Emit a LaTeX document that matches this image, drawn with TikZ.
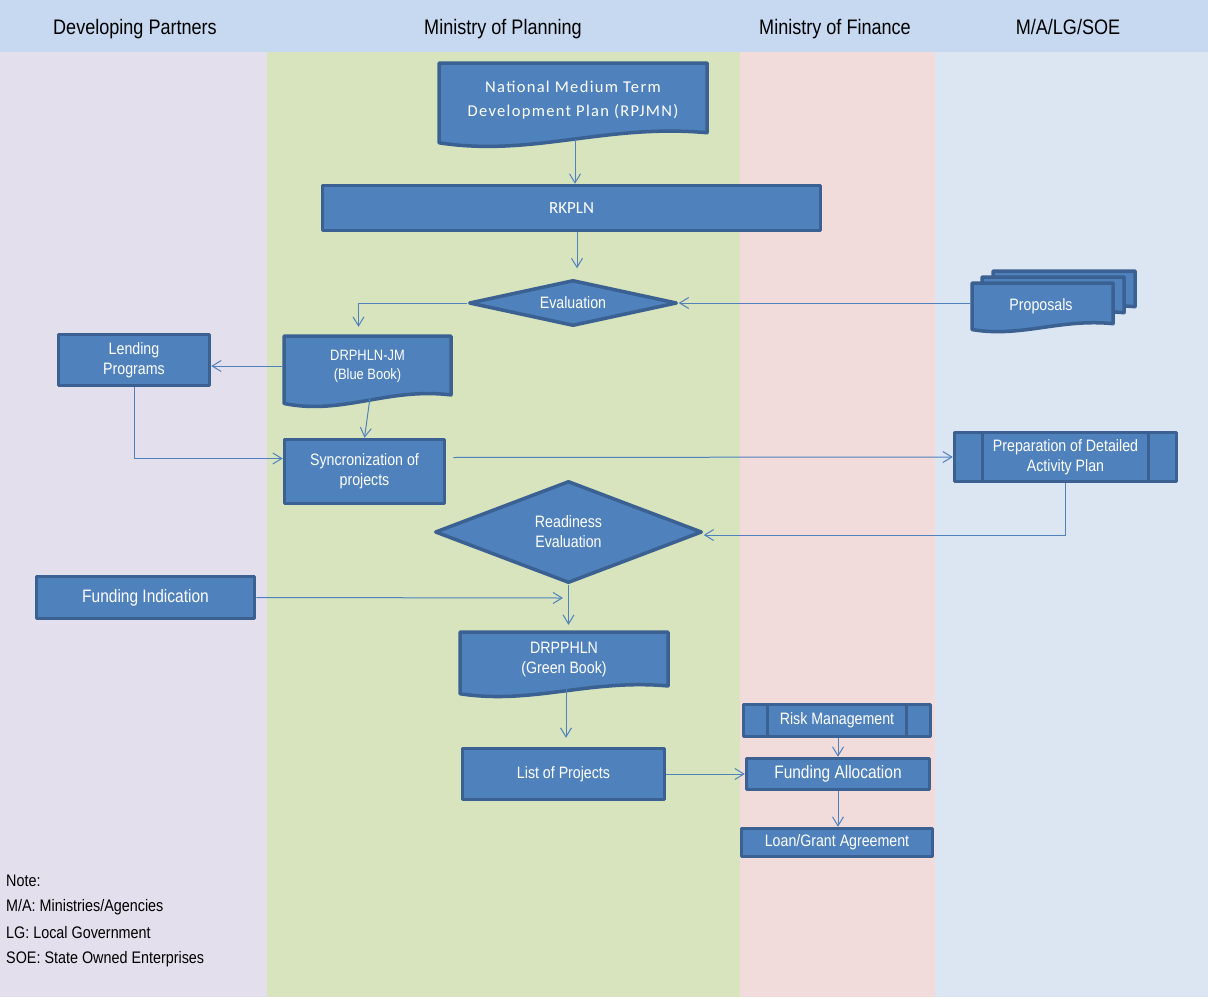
\documentclass[tikz,border=0pt]{standalone}
\usepackage{fontspec}
\setmainfont{Liberation Sans}
\newfontfamily\narrow[FakeStretch=0.86]{Liberation Sans}
\newfontfamily\calib[LetterSpace=8]{Carlito}
\newfontfamily\calibplain{Carlito}
\usetikzlibrary{arrows.meta,shapes.geometric,calc}
\definecolor{hdr}{HTML}{C6D9F1}
\definecolor{lanea}{HTML}{E4DFEC}
\definecolor{laneb}{HTML}{D7E4BD}
\definecolor{lanec}{HTML}{F2DCDB}
\definecolor{laned}{HTML}{DCE6F2}
\definecolor{boxfill}{HTML}{4F81BD}
\definecolor{boxline}{HTML}{3A6191}
\definecolor{connc}{HTML}{4F81BD}
\tikzset{
  boxstyle/.style={fill=boxfill,draw=boxline,line width=3.5pt,line join=round},
  proc/.style={boxstyle,rectangle,text=white,align=center,inner sep=0pt,
    font=\narrow\fontsize{16.5}{20}\selectfont},
  dec/.style={boxstyle,diamond,text=white,align=center,inner sep=0pt,
    font=\narrow\fontsize{16.5}{20}\selectfont},
  doclabel/.style={rectangle,draw=none,text=white,align=center,inner sep=0pt,
    font=\narrow\fontsize{16.5}{20}\selectfont},
  predef/.style={proc,path picture={
    \draw[boxline,line width=3.5pt]
      ([xshift=#1]path picture bounding box.south west) -- ([xshift=#1]path picture bounding box.north west)
      ([xshift=-#1]path picture bounding box.south east) -- ([xshift=-#1]path picture bounding box.north east);}},
  hdrtext/.style={font=\narrow\fontsize{21}{24}\selectfont,text=black,anchor=base},
  notetext/.style={font=\narrow\fontsize{16.7}{19}\selectfont,text=black,anchor=west,inner sep=0pt},
  conn/.style={draw=connc,line width=1pt,-{Straight Barb[length=9pt,width=11pt]}},
}
% document shape: x0 y0 x1 y1 (y1 = lowest point of wave)
\newcommand\docshape[4]{%
  \draw[boxstyle] (#1,#2) -- (#3,#2) -- (#3,{#2+0.83*(#4-#2)})
    .. controls ({#1+0.62*(#3-#1)},{#2+0.72*(#4-#2)}) and ({#1+0.35*(#3-#1)},{#2+1.12*(#4-#2)}) ..
    (#1,{#2+0.95*(#4-#2)}) -- cycle;}
\begin{document}
\begin{tikzpicture}[x=1pt,y=-1pt]
\useasboundingbox (0,0) rectangle (1208,997);
% lanes
\fill[lanea] (0,52) rectangle (267,997);
\fill[laneb] (267,52) rectangle (740,997);
\fill[lanec] (740,52) rectangle (935,997);
\fill[laned] (935,52) rectangle (1208,997);
\fill[hdr] (0,0) rectangle (1208,52);
\node[hdrtext] (h1) at (135,34) {Developing Partners};
\node[hdrtext] (h2) at (503,34) {Ministry of Planning};
\node[hdrtext] (h3) at (835,34) {Ministry of Finance};
\node[hdrtext] (h4) at (1068,34) {M/A/LG/SOE};

% RPJMN document
\docshape{439}{63}{707}{147}
\node[doclabel,minimum width=268pt,minimum height=77pt,font=\calib\fontsize{16.5}{24}\selectfont] (rpjmn) at (573,100)
  {National Medium Term\\Development Plan (RPJMN)};

% RKPLN
\node[proc,minimum width=498pt,minimum height=45pt,font=\calibplain\fontsize{17}{20}\selectfont] (rkpln) at (571.5,208) {RKPLN};

% Evaluation
\node[dec,aspect=4.4,minimum width=208pt,minimum height=46pt] (eval) at (573,303) {Evaluation};

% Proposals (multi-document)
\docshape{993}{271}{1135}{314}
\docshape{982}{277}{1124}{320}
\docshape{972}{283}{1113}{332}
\node[doclabel,minimum width=141pt,minimum height=44pt] (prop) at (1041,306) {Proposals};

% Blue Book
\docshape{284}{336}{451}{407}
\node[doclabel,minimum width=167pt,minimum height=64pt,font=\narrow\fontsize{15}{19}\selectfont] (bb) at (367.5,366)
  {DRPHLN-JM\\(Blue Book)};

% Lending Programs
\node[proc,minimum width=151pt,minimum height=51pt] (lend) at (134,360) {Lending\\Programs};

% Syncronization
\node[proc,minimum width=160pt,minimum height=64pt] (sync) at (364.5,471.5) {Syncronization of\\projects};

% Preparation
\node[predef=28pt,minimum width=222pt,minimum height=49pt] (prep) at (1065.5,457) {Preparation of Detailed\\Activity Plan};

% Readiness
\node[dec,aspect=2.6,minimum width=267pt,minimum height=102pt] (ready) at (568.5,532) {Readiness\\Evaluation};

% Funding Indication
\node[proc,minimum width=218pt,minimum height=42pt,font=\narrow\fontsize{18}{20}\selectfont] (fund) at (145.5,597.5) {Funding Indication};
\coordinate (fundend) at (563,598);

% Green Book
\docshape{460}{632}{668}{697}
\node[doclabel,minimum width=208pt,minimum height=58pt] (green) at (564,660) {DRPPHLN\\(Green Book)};

% List of Projects
\node[proc,minimum width=202pt,minimum height=51pt] (list) at (563.5,774) {List of Projects};

% Finance column
\node[predef=24pt,minimum width=187pt,minimum height=32pt] (risk) at (837,720.5) {Risk Management};
\node[proc,minimum width=183pt,minimum height=31pt,font=\narrow\fontsize{18}{20}\selectfont] (falloc) at (838,774) {Funding Allocation};
\node[proc,minimum width=191pt,minimum height=28pt] (loan) at (837,842.5) {Loan/Grant Agreement};

% Note
\node[notetext] (n1) at (6,881) {Note:};
\node[notetext] (n2) at (6,907) {M/A: Ministries/Agencies};
\node[notetext] (n3) at (6,933) {LG: Local Government};
\node[notetext] (n4) at (6,959) {SOE: State Owned Enterprises};

% connectors
\draw[conn] ([xshift=2pt]rpjmn.south) -- ([xshift=2pt]rpjmn.south |- rkpln.north);
\draw[conn,shorten >=10pt] ([xshift=4pt]eval.north |- rkpln.south) -- ([xshift=4pt]eval.north);
\draw[conn,shorten >=7pt] (eval.west) -| ([xshift=-9pt]bb.north);
\draw[conn] (prop.west |- eval.east) -- (eval.east);
\draw[conn,shorten <=2pt] (bb.west) -- (bb.west -| lend.east);
\draw[conn] ([xshift=3pt,yshift=4pt]bb.south) -- (sync.north);
\draw[conn] (lend.south) |- ([yshift=13pt]sync.west);
\draw[conn,shorten <=7pt] ([yshift=14pt]sync.east) -- (prep.west);
\draw[conn] (prep.south) |- ([yshift=-3pt]ready.east);
\draw[conn] (fund.east) -- (fundend);
\draw[conn,shorten >=6pt] (ready.south) -- (ready.south |- green.north);
\draw[conn,shorten >=9pt] ([xshift=2pt]green.south) -- ([xshift=2pt]green.south |- list.north);
\draw[conn] (list.east) -- (falloc.west);
\draw[conn] ([xshift=1pt]risk.south) -- ([xshift=1pt]risk.south |- falloc.north);
\draw[conn] (falloc.south) -- (falloc.south |- loan.north);
\end{tikzpicture}
\end{document}
